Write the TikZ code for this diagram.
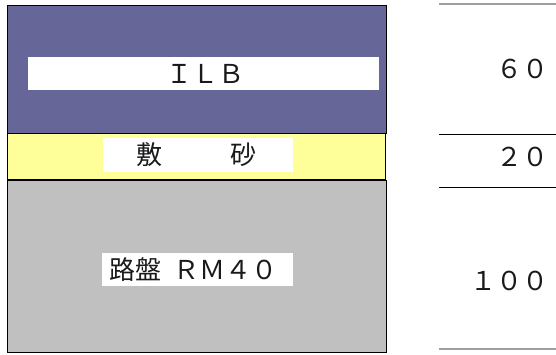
\documentclass[tikz,border=0pt]{standalone}
\usepackage{fontspec}
\newfontfamily\jfont{Noto Sans CJK JP}
\definecolor{ilbc}{HTML}{666699}
\definecolor{sandc}{HTML}{FFFF99}
\definecolor{basec}{HTML}{C0C0C0}
\definecolor{txtc}{HTML}{1A1A1A}
\tikzset{
  layer/.style={draw=black, line width=1pt},
  lbl/.style={fill=white, inner sep=0pt, text=txtc, font=\jfont\fontsize{26}{26}\selectfont},
  num/.style={inner sep=0pt, text=txtc, anchor=east, font=\jfont\fontsize{26}{26}\selectfont},
  sep/.style={line width=1pt, black},
  sepg/.style={line width=1.3pt, gray!75}
}
\begin{document}
\begin{tikzpicture}[x=1pt,y=-1pt]
\useasboundingbox (0,0) rectangle (556,354);
% layers
\draw[layer, fill=ilbc] (7,5) rectangle (386,133);
\draw[layer, fill=sandc] (7,133) rectangle (385.5,179.5);
\draw[layer, fill=basec] (7,180.5) rectangle (386,352);
\draw[line width=2pt] (7,179.5) -- (386,179.5);
% labels
\node[lbl, minimum width=351pt, minimum height=33pt] (ilb) at (203.5,73.5) {\makebox[351pt]{\hspace{3pt}ＩＬＢ}};
\node[lbl, minimum width=190pt, minimum height=34pt] (sand) at (198,155) {\makebox[190pt]{\hspace{-3pt}敷\hspace{69pt}砂}};
\node[lbl, minimum width=191pt, minimum height=33pt] (base) at (197.5,269.5) {\makebox[191pt]{\hspace{-8pt}路盤\hspace{12pt}ＲＭ４０}};
% thickness column
\draw[sepg] (439,4) -- (556,4);
\draw[sep] (439,134) -- (556,134);
\draw[sep] (439,187) -- (556,187);
\draw[sepg] (439,349) -- (556,349);
\node[num] (n60) at (549,69) {６０};
\node[num] (n20) at (549,157) {２０};
\node[num] (n100) at (549,281) {１００};
\end{tikzpicture}
\end{document}
